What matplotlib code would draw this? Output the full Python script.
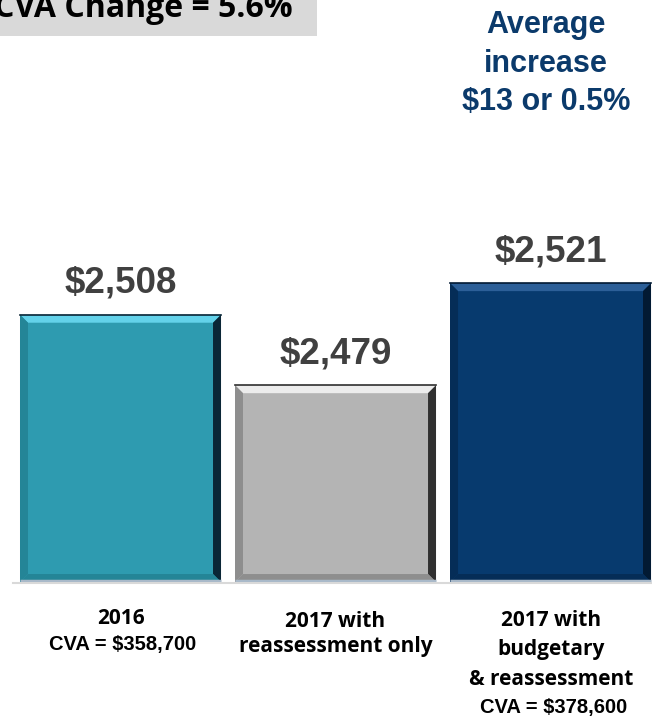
import matplotlib
matplotlib.use("Agg")
import matplotlib.pyplot as plt
from matplotlib.patches import Polygon, Rectangle

categories = ["2016", "2017 with\nreassessment only", "2017 with\nbudgetary\n& reassessment"]
subtitles = ["CVA = $358,700", "", "CVA = $378,600"]
values = [2508, 2479, 2521]
value_labels = ["$2,508", "$2,479", "$2,521"]
title = "CVA Change = 5.6%"
note = ["Average", "increase", "$13 or 0.5%"]

FACE = ["#2e9bb0", "#b4b4b4", "#073a6e"]
LIGHT = ["#63d2ea", "#ececec", "#2c5f98"]
DARK = ["#0a2636", "#303030", "#021a33"]
SIDE = ["#248597", "#8e8e8e", "#052d57"]

ARIAL = ["Liberation Sans", "DejaVu Sans"]
CALIBRI = ["Open Sans", "DejaVu Sans"]

W, H = 652, 726
fig = plt.figure(figsize=(W / 100, H / 100), dpi=100)
ax = fig.add_axes([0, 0.1983, 1, 0.8017])
ymin, ymax = 2398, 2637.5
ax.set_xlim(-0.5605, 2.472)
ax.set_ylim(ymin, ymax)
ax.axis("off")


def ftext(x, y, s, **kw):
    # place text by pixel position from the top-left corner
    return fig.text(x / W, 1 - y / H, s, **kw)


width = 0.935
bx = 8 / 215.0
by = 8 / 2.43
for i, v in enumerate(values):
    x0, x1 = i - width / 2, i + width / 2
    ax.add_patch(Rectangle((x0, ymin), width, v - ymin, facecolor=FACE[i],
                           edgecolor="none", zorder=2))
    # bevel edges
    ax.add_patch(Polygon([(x0, v), (x1, v), (x1 - bx, v - by), (x0 + bx, v - by)],
                         closed=True, facecolor=LIGHT[i], edgecolor="none", zorder=3))
    ax.add_patch(Polygon([(x1, v), (x1, ymin), (x1 - bx, ymin + by), (x1 - bx, v - by)],
                         closed=True, facecolor=DARK[i], edgecolor="none", zorder=3))
    ax.add_patch(Polygon([(x0, v), (x0, ymin), (x0 + bx, ymin + by), (x0 + bx, v - by)],
                         closed=True, facecolor=SIDE[i], edgecolor="none", zorder=3))
    ax.add_patch(Polygon([(x0, ymin), (x1, ymin), (x1 - bx, ymin + by), (x0 + bx, ymin + by)],
                         closed=True, facecolor=SIDE[i], edgecolor="none", zorder=3))
    ax.plot([x0, x1], [v, v], color=DARK[i], lw=1.2, zorder=4)
    ax.plot([x0, x1], [ymin + 0.3, ymin + 0.3], color="#a9b9c9", lw=2.5, zorder=4,
            solid_capstyle="butt")
    ax.text(i, v + 9, value_labels[i], ha="center", va="baseline", fontsize=26.5,
            fontweight="bold", color="#404040", family=ARIAL)

ax.plot([-0.5, 2.472], [ymin - 0.4, ymin - 0.4], color="#d9d9d9", lw=1.5, zorder=1,
        clip_on=False)

# category labels under the bars
centers = [120.5, 335.5, 551.5]
baselines = [[624], [627, 652], [626, 655, 685]]
sub_base = [650, None, 713]
for i, cat in enumerate(categories):
    for line, yb in zip(cat.split("\n"), baselines[i]):
        ftext(centers[i], yb, line, ha="center", va="baseline", fontsize=15,
              fontweight="bold", family=CALIBRI)
    if subtitles[i]:
        ftext(centers[i] + 2, sub_base[i], subtitles[i], ha="center", va="baseline",
              fontsize=14.5, fontweight="bold", family=ARIAL)

# title box (cropped at top-left)
fig.patches.append(Rectangle((0, 1 - 36 / H), 317 / W, 36 / H,
                             transform=fig.transFigure, facecolor="#d9d9d9",
                             edgecolor="none", zorder=0))
ftext(293, 17, title, ha="right", va="baseline", fontsize=23, fontweight="bold",
      family=CALIBRI, color="black")

# annotation
for line, yb in zip(note, [33, 72, 110]):
    ftext(546, yb, line, ha="center", va="baseline", fontsize=22, fontweight="bold",
          color="#0b3a6b", family=ARIAL)

fig.savefig("out.png", dpi=100)
